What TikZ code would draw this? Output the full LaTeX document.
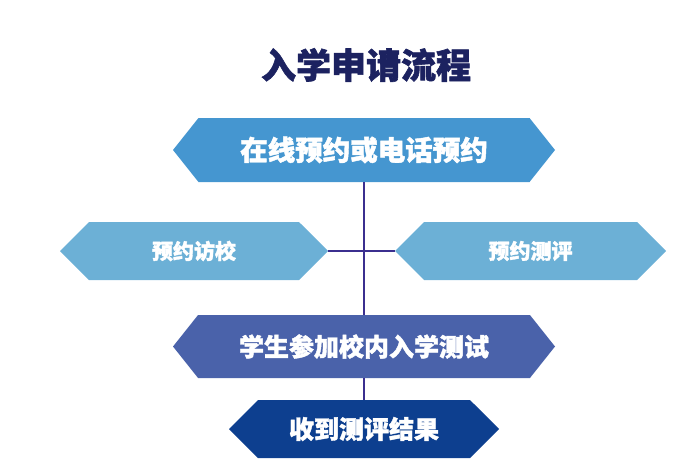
\documentclass[tikz,border=0pt]{standalone}
\usepackage{fontspec}
\newfontfamily\cjk{Noto Sans CJK SC}[BoldFeatures={FakeBold=1.6}]
\usetikzlibrary{shapes.symbols}
\definecolor{titleblue}{HTML}{1C2260}
\definecolor{stepblue}{HTML}{4596D0}
\definecolor{sideblue}{HTML}{6CB0D6}
\definecolor{testblue}{HTML}{4A62AA}
\definecolor{resultblue}{HTML}{0D3F8F}
\definecolor{linkpurple}{HTML}{3B2F8F}
\tikzset{
  hexbox/.style={shape=signal, signal to=east and west, draw=none,
    inner sep=0pt, text=white, font=\cjk\bfseries},
  link/.style={draw=linkpurple, line width=1.6pt}
}
\begin{document}
\begin{tikzpicture}[x=1pt,y=-1pt]
  \useasboundingbox (0,0) rectangle (698,471);

  %% title
  \node[text=titleblue, font=\cjk\bfseries\fontsize{35}{40}\selectfont] (title) at (366,65) {入学申请流程};

  %% steps
  \node[hexbox, fill=stepblue, minimum width=382pt, minimum height=64pt,
    signal pointer angle=103, font=\cjk\bfseries\fontsize{27.5}{30}\selectfont] (book) at (364,150) {在线预约或电话预约};
  \node[hexbox, fill=sideblue, minimum width=268pt, minimum height=58pt,
    signal pointer angle=90, font=\cjk\bfseries\fontsize{21}{24}\selectfont] (visit) at (194,251) {预约访校};
  \node[hexbox, fill=sideblue, minimum width=271pt, minimum height=58pt,
    signal pointer angle=90, font=\cjk\bfseries\fontsize{21}{24}\selectfont] (assess) at (530.5,251) {预约测评};
  \node[hexbox, fill=testblue, minimum width=382pt, minimum height=63pt,
    signal pointer angle=103, font=\cjk\bfseries\fontsize{25}{28}\selectfont] (test) at (364,346.5) {学生参加校内入学测试};
  \node[hexbox, fill=resultblue, minimum width=270pt, minimum height=58pt,
    signal pointer angle=90, font=\cjk\bfseries\fontsize{25}{28}\selectfont] (result) at (364,429) {收到测评结果};

  %% links
  \draw[link] (book.south) -- (test.north);
  \draw[link] (visit.east) -- (assess.west);
  \draw[link] (test.south) -- (result.north);
\end{tikzpicture}
\end{document}
